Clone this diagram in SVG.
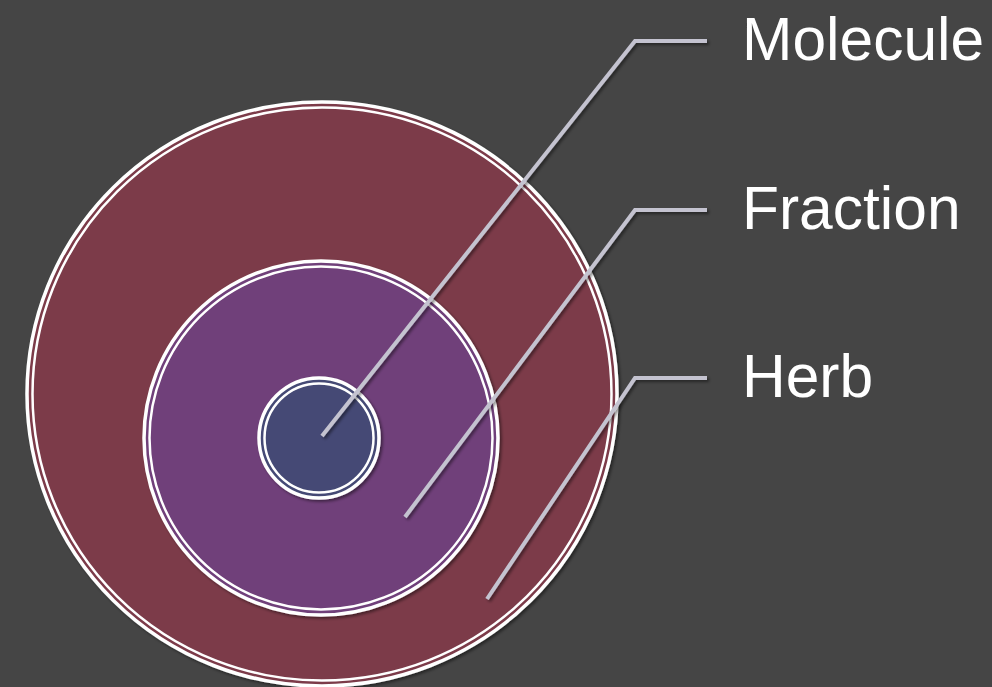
<svg xmlns="http://www.w3.org/2000/svg" width="992" height="687" viewBox="0 0 992 687">
<defs>
<filter id="sh" x="-20%" y="-20%" width="140%" height="140%">
<feDropShadow dx="2" dy="2" stdDeviation="1.5" flood-color="#000" flood-opacity="0.45"/>
</filter>
</defs>
<style>
.ringo{fill:none;stroke:#fff;stroke-width:3.5}
.ringi{fill:none;stroke:#fff;stroke-width:2.5}
.lead{fill:none;stroke:#c4c3d0;stroke-width:4;stroke-linejoin:miter;stroke-linecap:butt}
.lbl{font-family:"Liberation Sans",Arial,sans-serif;font-size:60.5px;fill:#fff}
</style>
<rect width="992" height="687" fill="#454545"/>
<g id="herb-circle" filter="url(#sh)">
<ellipse cx="322" cy="394" rx="295" ry="292" fill="#7c3b4a"/>
<ellipse class="ringo" cx="322" cy="394" rx="295" ry="292"/>
<ellipse class="ringi" cx="322" cy="394" rx="289.5" ry="286.5"/>
</g>
<g id="fraction-circle" filter="url(#sh)">
<circle cx="321" cy="438" r="177" fill="#6f3f7a"/>
<circle class="ringo" cx="321" cy="438" r="177"/>
<circle class="ringi" cx="321" cy="438" r="171.5"/>
</g>
<g id="molecule-circle" filter="url(#sh)">
<circle cx="319" cy="438" r="60" fill="#444a74"/>
<circle class="ringo" cx="319" cy="438" r="60"/>
<circle class="ringi" cx="319" cy="438" r="54.5"/>
</g>
<g id="connectors" filter="url(#sh)">
<polyline class="lead" points="322,436 635,41 707,41"/>
<polyline class="lead" points="405,517 635,210 707,210"/>
<polyline class="lead" points="487,599 635,378 707,378"/>
</g>
<g id="label-molecule"><text class="lbl" x="742" y="60">Molecule</text></g>
<g id="label-fraction"><text class="lbl" x="742" y="229">Fraction</text></g>
<g id="label-herb"><text class="lbl" x="742" y="397">Herb</text></g>
</svg>
